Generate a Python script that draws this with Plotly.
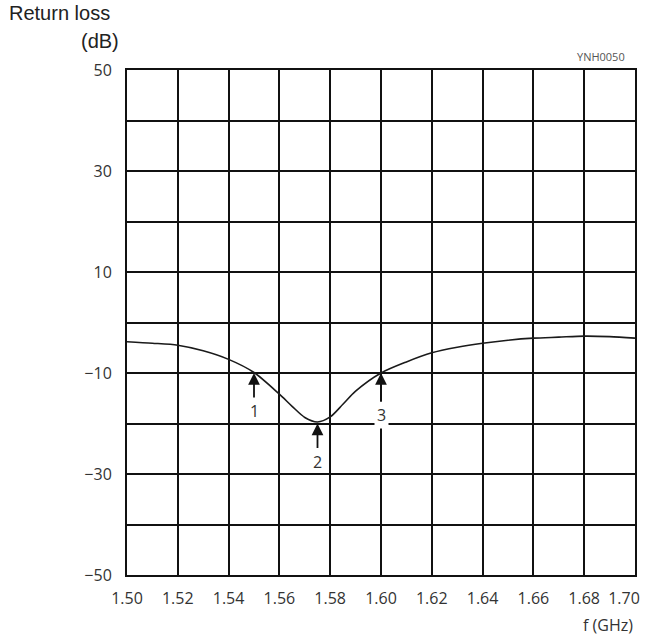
import plotly.graph_objects as go

# ---- data ----
freq_ghz = [1.50, 1.51, 1.52, 1.53, 1.54, 1.55, 1.56, 1.565, 1.57, 1.575, 1.58, 1.585,
            1.59, 1.60, 1.61, 1.62, 1.63, 1.64, 1.65, 1.66, 1.67, 1.68, 1.69, 1.70]
return_loss_db = [-3.8, -4.1, -4.5, -5.6, -7.3, -9.9, -14.2, -16.6, -18.8, -19.7, -18.7, -16.2,
                  -13.6, -10.0, -7.8, -6.0, -4.9, -4.1, -3.5, -3.1, -2.9, -2.7, -2.8, -3.1]

marker_labels = ["1", "2", "3"]
marker_freq = [1.55, 1.575, 1.60]
marker_db = [-10, -20, -10]

x_tickvals = [1.50, 1.52, 1.54, 1.56, 1.58, 1.60, 1.62, 1.64, 1.66, 1.68, 1.70]
x_ticktext = ["1.50", "1.52", "1.54", "1.56", "1.58", "1.60", "1.62", "1.64", "1.66", "1.68", "1.70"]
y_tickvals = [-50, -40, -30, -20, -10, 0, 10, 20, 30, 40, 50]
y_ticktext = ["\u221250", "", "\u221230", "", "\u221210", "", "10", "", "30", "", "50"]

TICK_FONT = dict(family="Open Sans, Noto Sans, sans-serif", size=16, color="#333333")

fig = go.Figure()
fig.add_trace(go.Scatter(
    x=freq_ghz, y=return_loss_db, mode="lines",
    line=dict(color="#1a1a1a", width=1.6, shape="spline", smoothing=0.8),
    hoverinfo="skip", showlegend=False,
))
# empty helper trace so the overlaid axis carrying the last tick label is drawn
fig.add_trace(go.Scatter(x=[], y=[], xaxis="x2", yaxis="y", mode="lines",
                         hoverinfo="skip", showlegend=False))

annotations = []
for lab, fx, fy, ay, bg in zip(marker_labels, marker_freq, marker_db, [38, 38, 42],
                               ["rgba(0,0,0,0)", "rgba(0,0,0,0)", "white"]):
    annotations.append(dict(
        x=fx, y=fy, xref="x", yref="y", text=lab, showarrow=True,
        ax=0, ay=ay, arrowhead=2, arrowsize=1.3, arrowwidth=1.8, arrowcolor="#111111",
        standoff=0, bgcolor=bg, borderpad=2,
        font=TICK_FONT,
    ))

annotations += [
    dict(x=-0.236, y=1.112, xref="paper", yref="paper", xanchor="left", yanchor="middle",
         text="Return loss", showarrow=False,
         font=dict(family="Liberation Sans, Arial, sans-serif", size=20, color="#222222")),
    dict(x=-0.012, y=1.058, xref="paper", yref="paper", xanchor="right", yanchor="middle",
         text="(dB)", showarrow=False,
         font=dict(family="Liberation Sans, Arial, sans-serif", size=20, color="#222222")),
    dict(x=0.985, y=1.027, xref="paper", yref="paper", xanchor="right", yanchor="middle",
         text="YNH0050", showarrow=False,
         font=dict(family="Open Sans, Noto Sans, sans-serif", size=11, color="#555555")),
    dict(x=1.0, y=-0.099, xref="paper", yref="paper", xanchor="right", yanchor="middle",
         text="f (GHz)", showarrow=False, font=TICK_FONT),
]

fig.update_layout(
    width=649, height=639,
    margin=dict(l=127, r=14, t=70, b=64),
    paper_bgcolor="white", plot_bgcolor="white",
    annotations=annotations,
    xaxis=dict(
        range=[1.50, 1.70], tickvals=x_tickvals[:-1], ticktext=x_ticktext[:-1],
        showgrid=True, gridcolor="#111111", gridwidth=1.8,
        showline=True, linecolor="#111111", linewidth=2, mirror=True,
        zeroline=False, ticks="", tickfont=TICK_FONT, ticklabelstandoff=8,
        ticklabeloverflow="allow", automargin=False,
    ),
    # last frequency label, nudged left so it stays inside the page as in the original
    xaxis2=dict(
        range=[1.50, 1.70], overlaying="x", anchor="y", side="bottom",
        tickvals=x_tickvals[-1:], ticktext=x_ticktext[-1:],
        showgrid=False, showline=False, zeroline=False, ticks="",
        tickfont=TICK_FONT, ticklabelstandoff=12, ticklabelshift=-11,
        ticklabeloverflow="allow", automargin=False,
    ),
    yaxis=dict(
        range=[-50, 50], tickvals=y_tickvals, ticktext=y_ticktext,
        showgrid=True, gridcolor="#111111", gridwidth=1.8,
        showline=True, linecolor="#111111", linewidth=2, mirror=True,
        zeroline=False, ticks="", tickfont=TICK_FONT, ticklabelstandoff=10,
        automargin=False,
    ),
)

# remove the page's default body margin so the figure sits at the window's corner
fig.write_html("out.html", config={"displayModeBar": False},
               post_script="document.body.style.margin='0';")
